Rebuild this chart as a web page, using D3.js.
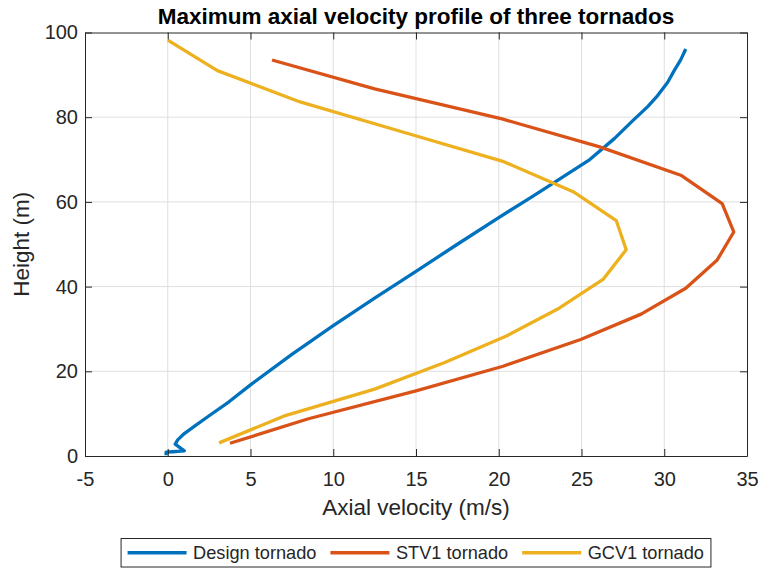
<!DOCTYPE html>
<html>
<head>
<meta charset="utf-8">
<script src="https://cdn.jsdelivr.net/npm/d3@7"></script>
<style>
  html, body { margin: 0; padding: 0; background: #ffffff; }
  svg { display: block; font-family: "Liberation Sans", Arial, Helvetica, sans-serif; }
</style>
</head>
<body>
<svg id="chart" width="763" height="569"></svg>
<script>
// Axial velocity (m/s) against height (m) for each tornado profile
const designVelocity = [-0.1, -0.1, 0.3, 1.0, 0.45, 0.6, 1.0, 1.6, 2.5, 3.7, 5.0, 7.5, 10.0, 12.5, 15.0, 17.5, 20.0, 22.0, 24.0, 25.5, 27.0, 28.1, 29.0, 29.6, 30.2, 30.6, 31.0, 31.3];
const designHeight   = [0.2, 0.9, 1.0, 1.2, 2.8, 3.8, 5.3, 7.0, 9.5, 12.8, 16.8, 24.0, 30.8, 37.3, 43.6, 50.0, 56.3, 61.2, 66.2, 70.0, 75.0, 79.2, 82.5, 85.1, 88.2, 91.0, 93.6, 96.1];

const stv1Velocity = [3.76, 8.5, 15.0, 20.26, 24.95, 28.6, 31.3, 33.2, 34.2, 33.5, 31.0, 26.1, 20.2, 12.5, 6.3];
const stv1Height   = [3.0, 8.8, 15.4, 21.2, 27.5, 33.5, 39.6, 46.3, 52.9, 59.6, 66.3, 73.0, 79.6, 86.7, 93.5];

const gcv1Velocity = [3.1, 7.0, 12.5, 16.7, 20.5, 23.65, 26.3, 27.7, 27.1, 24.5, 20.3, 14.2, 8.0, 3.0, 0.0];
const gcv1Height   = [3.1, 9.4, 15.8, 22.0, 28.4, 34.9, 41.7, 48.7, 55.6, 62.4, 69.5, 76.5, 83.6, 91.0, 98.2];

const seriesNames = ["Design tornado", "STV1 tornado", "GCV1 tornado"];
const seriesColors = ["#0072BD", "#D95319", "#EDB120"];

const xTicks = [-5, 0, 5, 10, 15, 20, 25, 30, 35];
const yTicks = [0, 20, 40, 60, 80, 100];

const titleText = "Maximum axial velocity profile of three tornados";
const xLabelText = "Axial velocity (m/s)";
const yLabelText = "Height (m)";

// Build series records from the arrays above
const series = [
  { name: seriesNames[0], color: seriesColors[0], pts: designVelocity.map((v, i) => [v, designHeight[i]]) },
  { name: seriesNames[1], color: seriesColors[1], pts: stv1Velocity.map((v, i) => [v, stv1Height[i]]) },
  { name: seriesNames[2], color: seriesColors[2], pts: gcv1Velocity.map((v, i) => [v, gcv1Height[i]]) }
];

const svg = d3.select("#chart");
const plot = { left: 85, top: 32.5, right: 747, bottom: 456 };
const axisColor = "#262626";

const x = d3.scaleLinear().domain([-5, 35]).range([plot.left, plot.right]);
const y = d3.scaleLinear().domain([0, 100]).range([plot.bottom, plot.top]);

// Grid
const grid = svg.append("g");
grid.selectAll("line.gx").data(xTicks.slice(1, -1)).join("line")
  .attr("x1", d => x(d)).attr("x2", d => x(d))
  .attr("y1", plot.top).attr("y2", plot.bottom)
  .attr("stroke", "#dfdfdf").attr("stroke-width", 1);
grid.selectAll("line.gy").data(yTicks.slice(1, -1)).join("line")
  .attr("x1", plot.left).attr("x2", plot.right)
  .attr("y1", d => y(d)).attr("y2", d => y(d))
  .attr("stroke", "#dfdfdf").attr("stroke-width", 1);

// Data lines
const line = d3.line().x(d => x(d[0])).y(d => y(d[1]));
svg.append("g").selectAll("path").data(series).join("path")
  .attr("d", d => line(d.pts))
  .attr("fill", "none")
  .attr("stroke", d => d.color)
  .attr("stroke-width", 3.3)
  .attr("stroke-linejoin", "round");

// Axes with inward ticks on all four sides
const tickLen = 7;
const fontTick = 20;
const plainNumber = d => String(d);
const bottomAxis = d3.axisBottom(x).tickValues(xTicks).tickFormat(plainNumber)
  .tickSizeInner(-tickLen).tickSizeOuter(0).tickPadding(16);
const topAxis = d3.axisTop(x).tickValues(xTicks).tickSizeInner(-tickLen).tickSizeOuter(0).tickFormat("");
const leftAxis = d3.axisLeft(y).tickValues(yTicks).tickFormat(plainNumber)
  .tickSizeInner(-tickLen).tickSizeOuter(0).tickPadding(7);
const rightAxis = d3.axisRight(y).tickValues(yTicks).tickSizeInner(-tickLen).tickSizeOuter(0).tickFormat("");

function styleAxis(g) {
  g.select(".domain").attr("stroke", axisColor).attr("stroke-width", 1);
  g.selectAll(".tick line").attr("stroke", axisColor).attr("stroke-width", 1);
  g.selectAll(".tick text").attr("fill", axisColor).attr("font-size", fontTick)
    .attr("font-family", "\"Liberation Sans\", Arial, sans-serif");
}
svg.append("g").attr("transform", `translate(0,${plot.bottom})`).call(bottomAxis).call(styleAxis);
svg.append("g").attr("transform", `translate(0,${plot.top})`).call(topAxis).call(styleAxis);
svg.append("g").attr("transform", `translate(${plot.left},0)`).call(leftAxis).call(styleAxis);
svg.append("g").attr("transform", `translate(${plot.right},0)`).call(rightAxis).call(styleAxis);

// Title and axis labels
svg.append("text")
  .attr("x", (plot.left + plot.right) / 2).attr("y", 23.5)
  .attr("text-anchor", "middle").attr("font-size", 22.5).attr("font-weight", "bold")
  .attr("fill", "#000").text(titleText);

svg.append("text")
  .attr("x", (plot.left + plot.right) / 2).attr("y", 515)
  .attr("text-anchor", "middle").attr("font-size", 22.5)
  .attr("fill", axisColor).text(xLabelText);

svg.append("text")
  .attr("transform", `translate(29,${(plot.top + plot.bottom) / 2}) rotate(-90)`)
  .attr("text-anchor", "middle").attr("font-size", 22.5)
  .attr("fill", axisColor).text(yLabelText);

// Legend, laid out horizontally below the axes
const legend = svg.append("g");
const legendFont = 18.2;
const lineLen = 59, padL = 6.5, gapText = 6.5, gapItem = 14, padR = 7;
const legendTop = 538.5, legendH = 28.5;
let cursor = 0;
const items = legend.selectAll("g.item").data(series).join("g").attr("class", "item");
items.append("line")
  .attr("stroke", d => d.color).attr("stroke-width", 3.3)
  .attr("y1", 0).attr("y2", 0);
items.append("text")
  .attr("font-size", legendFont).attr("fill", axisColor)
  .attr("dy", "0.35em")
  .text(d => d.name);
const widths = [];
items.each(function () {
  widths.push(d3.select(this).select("text").node().getComputedTextLength());
});
items.each(function (d, i) {
  const g = d3.select(this);
  g.select("line").attr("x1", cursor).attr("x2", cursor + lineLen);
  g.select("text").attr("x", cursor + lineLen + gapText);
  cursor += lineLen + gapText + widths[i] + (i < series.length - 1 ? gapItem : 0);
});
const legendW = padL + cursor + padR;
const legendLeft = (plot.left + plot.right) / 2 - legendW / 2;
legend.insert("rect", ":first-child")
  .attr("x", legendLeft).attr("y", legendTop)
  .attr("width", legendW).attr("height", legendH)
  .attr("fill", "#fff").attr("stroke", axisColor).attr("stroke-width", 1);
items.attr("transform", `translate(${legendLeft + padL},${legendTop + legendH / 2})`);
</script>
</body>
</html>
